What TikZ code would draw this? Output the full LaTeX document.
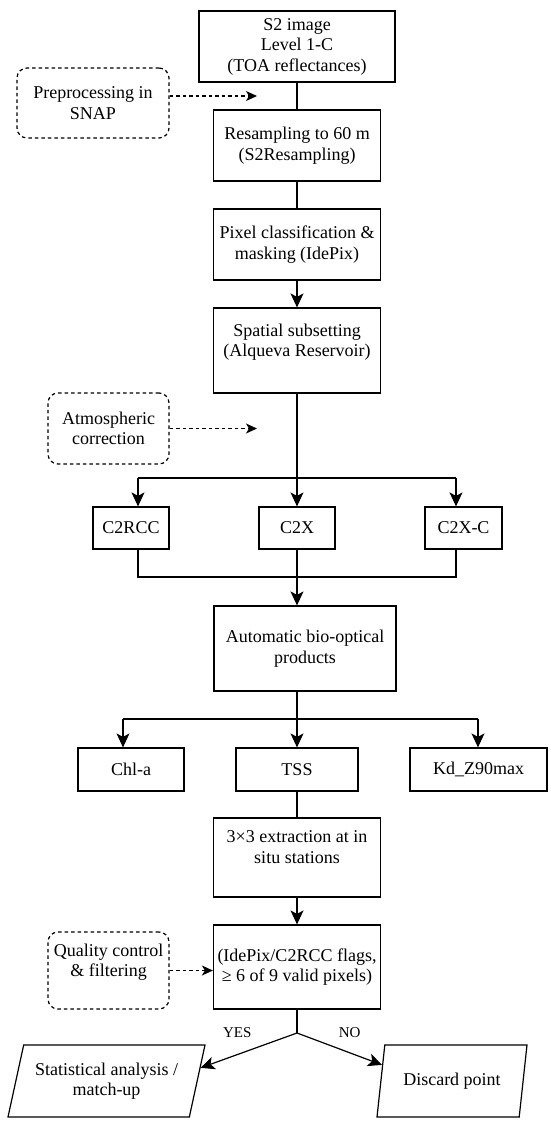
\documentclass[tikz,border=0pt]{standalone}
\usepackage{fontspec}
\setmainfont{Liberation Serif}
\usepackage{tikz}
\usetikzlibrary{shapes.geometric, arrows.meta, positioning, calc}
\tikzstyle{process} = [rectangle, draw=black, line width=1.2pt, align=center, inner sep=2pt, font=\fontsize{18}{20.5}\selectfont]
\tikzstyle{note} = [rectangle, rounded corners=10pt, draw=black, dash pattern=on 3.5pt off 3pt, line width=1.2pt, align=center, inner sep=2pt, font=\fontsize{18}{20.5}\selectfont]
\tikzstyle{io} = [trapezium, trapezium left angle=69, trapezium right angle=111, trapezium stretches body, draw=black, line width=1.2pt, align=center, inner sep=2pt, font=\fontsize{18}{20.5}\selectfont]
\tikzstyle{line} = [line width=1.2pt]
\tikzstyle{arrow} = [line width=1.2pt, -{Stealth[length=14pt, width=13pt, inset=3.5pt]}]
\tikzstyle{dasharrow} = [line width=1.2pt, dash pattern=on 3.5pt off 3pt, -{Stealth[length=11pt, width=10pt, inset=3pt]}]
\tikzstyle{answer} = [font=\fontsize{15}{18}\selectfont]

\begin{document}
\begin{tikzpicture}[x=1pt, y=-1pt]
\useasboundingbox (0,0) rectangle (550,1125);

\node (s2) [process, minimum width=196pt, minimum height=71pt] at (297,46.5) {S2 image\\Level 1-C\\(TOA reflectances)};
\node (prep) [note, minimum width=152pt, minimum height=70pt] at (93,103) {Preprocessing in\\SNAP};
\node (resamp) [process, minimum width=167pt, minimum height=71pt] at (297,145.5) {Resampling to 60 m\\(S2Resampling)};
\node (pixel) [process, minimum width=167pt, minimum height=71pt] at (297,244.5) {Pixel classification \&\\masking (IdePix)};
\node (spatial) [process, minimum width=167pt, minimum height=85pt] at (297,350.5) {Spatial subsetting\\(Alqueva Reservoir)\\ \mbox{}};
\node (atm) [note, minimum width=121pt, minimum height=71pt] at (108.5,428.5) {Atmospheric\\correction};
\node (c2rcc) [process, minimum width=76pt, minimum height=42pt] at (131,528) {C2RCC};
\node (c2x) [process, minimum width=76pt, minimum height=42pt] at (297,528) {C2X};
\node (c2xc) [process, minimum width=77pt, minimum height=42pt] at (463.5,528) {C2X-C};
\node (auto) [process, minimum width=182pt, minimum height=85pt] at (305,648.5) {Automatic bio-optical\\products};
\node (chla) [process, minimum width=106pt, minimum height=43pt] at (131,769.5) {Chl-a};
\node (tss) [process, minimum width=122pt, minimum height=43pt] at (297,769.5) {TSS};
\node (kd) [process, minimum width=137pt, minimum height=43pt] at (478.5,769.5) {Kd\_Z90max};
\node (extr) [process, minimum width=167pt, minimum height=79pt] at (297,857.5) {3×3 extraction at in\\situ stations\\ \mbox{}};
\node (qc) [process, minimum width=167pt, minimum height=84pt] at (297,967) {(IdePix/C2RCC flags,\\≥ 6 of 9 valid pixels)};
\node (qcnote) [note, minimum width=121pt, minimum height=77pt] at (108.5,970.5) {Quality control\\\& filtering\\ \mbox{}};
\node (stats) [io, minimum width=197pt, minimum height=72pt] at (106.5,1081) {Statistical analysis /\\match-up};
\node (disc) [io, minimum width=150pt, minimum height=72pt] at (452,1081) {Discard point};

\coordinate (prepend) at (257,96);
\coordinate (atmend) at (257,428.5);
\coordinate (bl1) at (138,478);
\coordinate (br1) at (456,478);
\coordinate (ml1) at (138,577);
\coordinate (mr1) at (456,577);
\coordinate (bl2) at (123,719);
\coordinate (br2) at (478,719);
\coordinate (junc) at (297,1033);

\draw [line] (s2) -- (resamp);
\draw [line] (resamp) -- (pixel);
\draw [arrow] (pixel) -- (spatial);
\draw [dasharrow] (prep.east |- prepend) -- (prepend);
\draw [dasharrow] (atm.east |- atmend) -- (atmend);

\draw [arrow] (spatial) -- (c2x);
\draw [line] (bl1) -- (br1);
\draw [arrow] (bl1) -- (bl1 |- c2rcc.north);
\draw [arrow] (br1) -- (br1 |- c2xc.north);
\draw [line] (bl1 |- c2rcc.south) -- (ml1) -- (mr1) -- (br1 |- c2xc.south);
\draw [arrow] (c2x) -- (c2x |- auto.north);

\draw [arrow] (auto.south -| tss) -- (tss);
\draw [line] (bl2) -- (br2);
\draw [arrow] (bl2) -- (bl2 |- chla.north);
\draw [arrow] (br2) -- (br2 |- kd.north);
\draw [line] (tss) -- (extr);
\draw [arrow] (extr) -- (qc);
\draw [dasharrow] (qcnote.east) -- (qcnote.east -| qc.west);

\draw [line] (qc) -- (junc);
\draw [arrow] (junc) -- node[answer, pos=0.62, yshift=22pt] {YES} ($(stats.top right corner)!0.32!(stats.bottom right corner)$);
\draw [arrow] (junc) -- node[answer, pos=0.62, yshift=20pt] {NO} ($(disc.top left corner)!0.28!(disc.bottom left corner)$);
\end{tikzpicture}
\end{document}
